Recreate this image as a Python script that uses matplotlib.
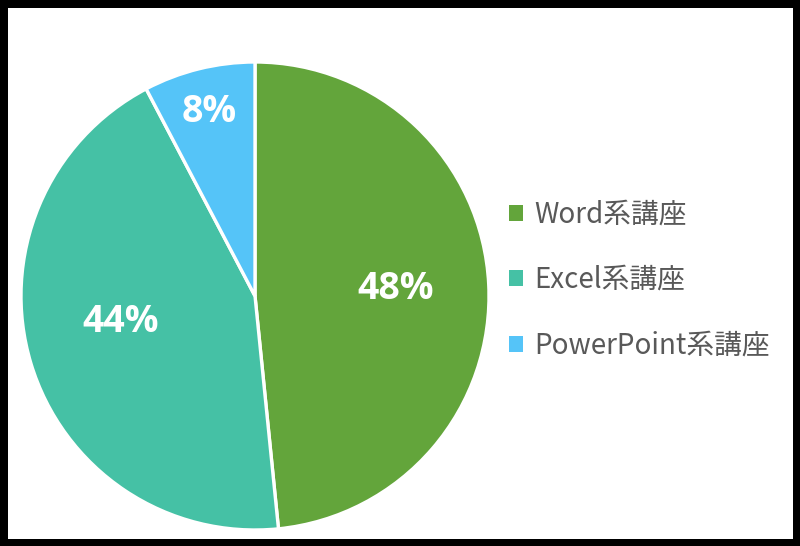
import numpy as np
import matplotlib.pyplot as plt

# 講座別の割合 (%)
categories = ['Word系講座', 'Excel系講座', 'PowerPoint系講座']
shares = [48.4, 43.9, 7.7]
colors = ['#63A53B', '#45C1A5', '#55C4F8']

plt.rcParams['font.family'] = ['Noto Sans CJK JP', 'DejaVu Sans']

fig = plt.figure(figsize=(8, 5.46), dpi=100)
fig.patch.set_facecolor('white')
fig.patch.set_edgecolor('black')
fig.patch.set_linewidth(9.5)

ax = fig.add_axes([21/800, 16/546, 468/800, 468/546])
wedges, texts, autotexts = ax.pie(shares, colors=colors, startangle=90, counterclock=False,
                                  autopct='%.0f%%', pctdistance=0.6,
                                  wedgeprops=dict(edgecolor='white', linewidth=2.4),
                                  textprops=dict(color='white', fontsize=27, fontweight='bold',
                                                 family=['Open Sans', 'DejaVu Sans']))
ax.set_xlim(-1, 1)
ax.set_ylim(-1, 1)
ax.set_aspect('equal')

# 小さい扇形のラベルは外寄りに
w = wedges[2]
mid = np.deg2rad((w.theta1 + w.theta2) / 2)
autotexts[2].set_position((0.81*np.cos(mid), 0.81*np.sin(mid)))
x, y = autotexts[1].get_position()
autotexts[1].set_position((x, y + 0.06))

leg = ax.legend(wedges, categories, loc='center left',
                bbox_to_anchor=(484/800, (546-280)/546), bbox_transform=fig.transFigure,
                frameon=False, fontsize=20, labelcolor='#595959',
                handlelength=0.52, handleheight=0.52, handletextpad=0.4, labelspacing=1.28)
for h in leg.legend_handles:
    h.set_linewidth(0)

fig.savefig('out.png', dpi=100)
